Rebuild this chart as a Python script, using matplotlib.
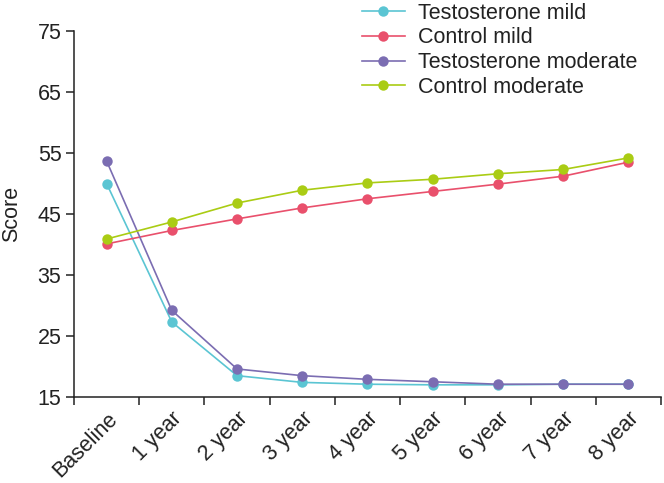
import matplotlib
matplotlib.use("Agg")
import matplotlib.pyplot as plt
import numpy as np

categories = ["Baseline", "1 year", "2 year", "3 year", "4 year", "5 year", "6 year", "7 year", "8 year"]
testosterone_mild = [50.0, 27.3, 18.5, 17.4, 17.1, 17.0, 17.0, 17.1, 17.1]
control_mild = [40.1, 42.3, 44.2, 46.0, 47.5, 48.7, 49.9, 51.2, 53.5]
testosterone_moderate = [53.7, 29.2, 19.6, 18.5, 17.9, 17.5, 17.1, 17.1, 17.1]
control_moderate = [40.9, 43.7, 46.8, 48.9, 50.1, 50.7, 51.6, 52.3, 54.2]
yticks = [15, 25, 35, 45, 55, 65, 75]

series = [
    ("Testosterone mild", testosterone_mild, "#5BC5D3"),
    ("Control mild", control_mild, "#E9506C"),
    ("Testosterone moderate", testosterone_moderate, "#7B6DB2"),
    ("Control moderate", control_moderate, "#AACC14"),
]

FS = 15.5
plt.rcParams['font.family'] = ['Liberation Sans', 'DejaVu Sans']
fig = plt.figure(figsize=(6.64, 4.83), dpi=100)
ax = fig.add_axes([0.1114, 0.178, 0.8841, 0.7578])

x = np.arange(len(categories))
handles = []
for name, vals, col in series:
    h, = ax.plot(x, vals, color=col, lw=1.2, marker='o', markersize=7.5,
                 markeredgewidth=0, label=name)
    handles.append(h)

ax.set_xlim(-0.5, len(categories) - 0.5)
ax.set_ylim(15, 75)
ax.set_yticks(yticks)
ax.set_yticklabels([str(v) for v in yticks], fontsize=FS, color='#222222')
ax.set_xticks(np.arange(-0.5, len(categories), 1.0))
ax.set_xticklabels([])
ax.set_xticks(x, minor=True)
ax.set_xticklabels(categories, minor=True, rotation=45, ha='right',
                   rotation_mode='anchor', fontsize=FS, color='#222222')
ax.tick_params(axis='x', which='minor', length=0, pad=8)
ax.tick_params(axis='both', which='major', length=6, width=1.1, direction='out', color='#222222')
ax.tick_params(axis='y', pad=3)
for s in ['top', 'right']:
    ax.spines[s].set_visible(False)
for s in ['left', 'bottom']:
    ax.spines[s].set_linewidth(1.1)
    ax.spines[s].set_color('#222222')
ax.set_ylabel("Score", fontsize=FS, labelpad=11.5, color='#222222')

fig.legend(handles=handles, loc='upper left', bbox_to_anchor=(0.532, 1.012),
           frameon=False, fontsize=FS, handlelength=2.0, handletextpad=0.6,
           labelspacing=0.17, borderaxespad=0, labelcolor='#222222')

fig.savefig("out.png", dpi=100)
